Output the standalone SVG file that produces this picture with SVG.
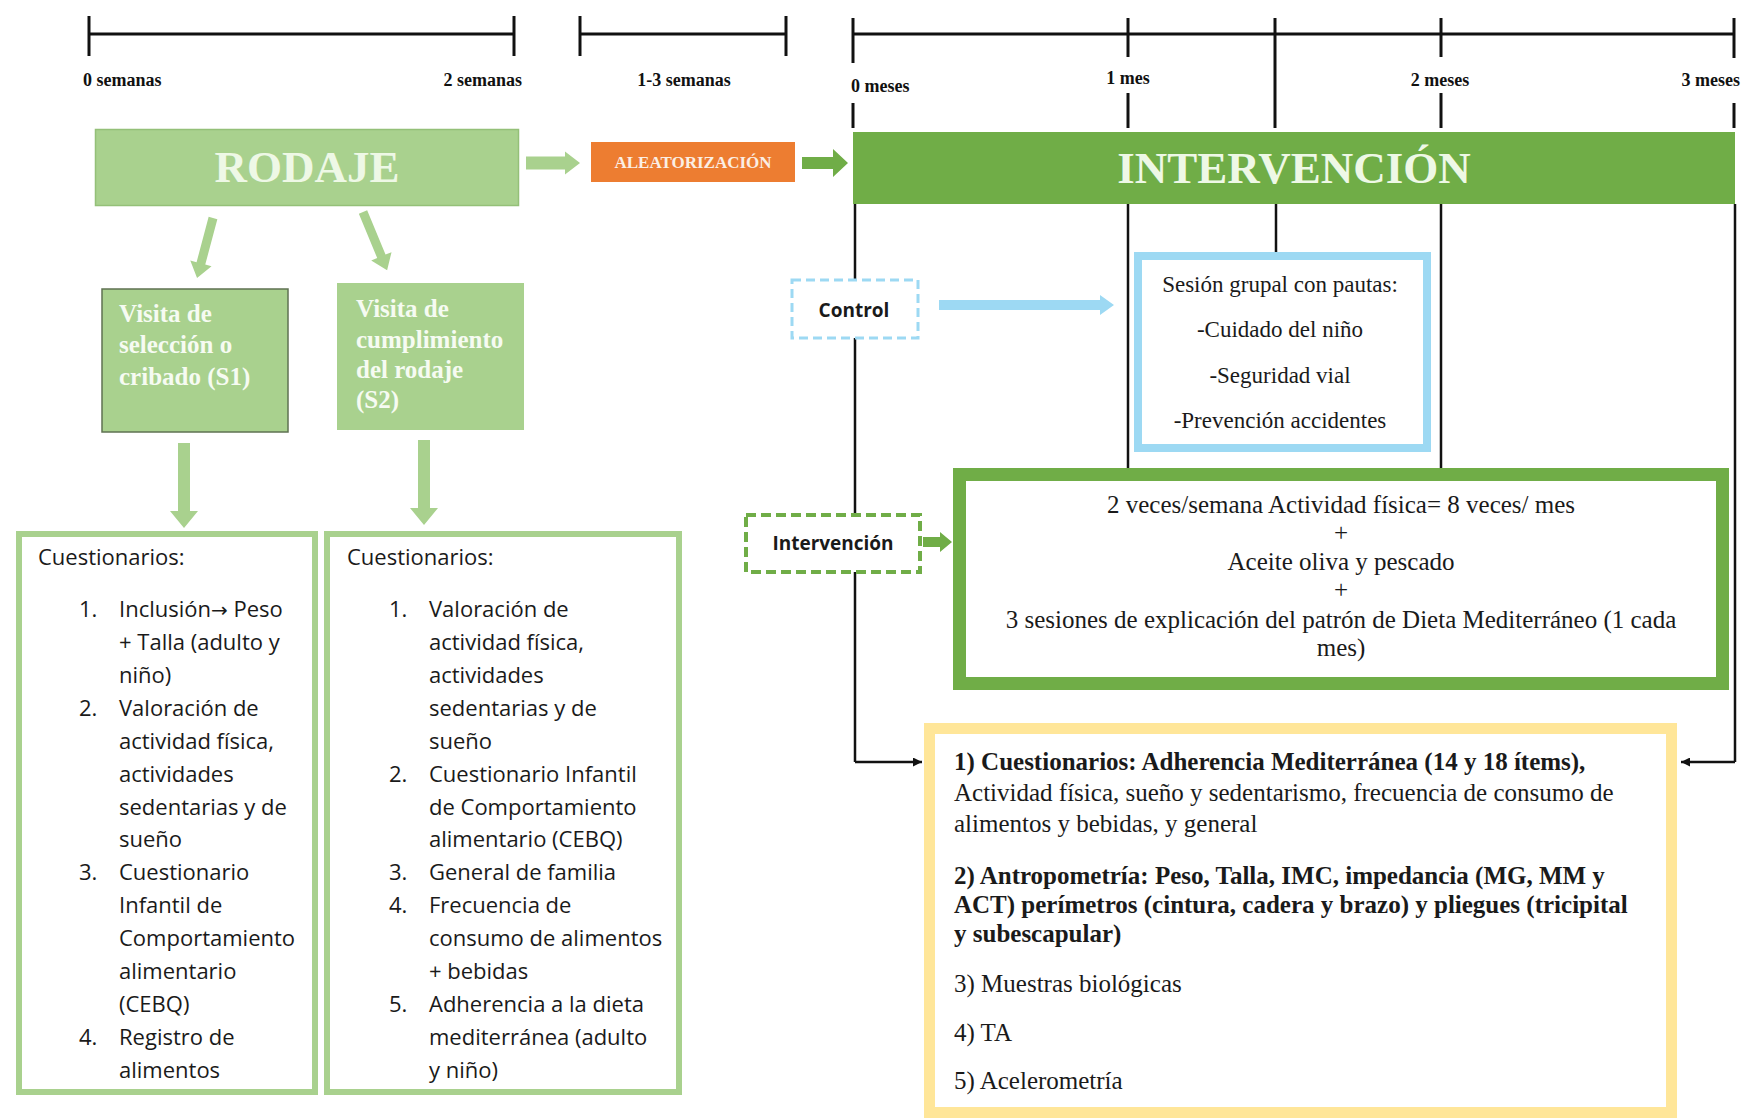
<svg xmlns="http://www.w3.org/2000/svg" width="1742" height="1120" viewBox="0 0 1742 1120">
<defs>
<style>
.tl{stroke:#111;stroke-width:3;fill:none}
.vl{stroke:#111;stroke-width:2.5;fill:none}
.lbl{font-family:"Liberation Serif",serif;font-weight:bold;font-size:18px;fill:#111}
.big{font-family:"Liberation Serif",serif;font-weight:bold;font-size:45px;fill:#eef8e6}
.vis{font-family:"Liberation Serif",serif;font-weight:bold;font-size:25px;fill:#f6fbf2}
.ser{font-family:"Liberation Serif",serif;font-size:25px;fill:#1a1a1a}
.serb{font-family:"Liberation Serif",serif;font-size:25px;font-weight:bold;fill:#1a1a1a}
.blu{font-family:"Liberation Serif",serif;font-size:23px;fill:#1a1a1a}
.cal{font-family:"Open Sans","Liberation Sans",sans-serif;font-size:22px;fill:#1a1a1a}
.calb{font-family:"Open Sans","Liberation Sans",sans-serif;font-size:19px;font-weight:bold;fill:#1a1a1a}
.lg{fill:#a9d18e}
.dg{fill:#70ad47}
</style>
<marker id="ah" viewBox="0 0 10 10" refX="10" refY="5" markerWidth="9" markerHeight="9" markerUnits="userSpaceOnUse" orient="auto">
<path d="M0,0 L10,5 L0,10 z" fill="#111"/>
</marker>
</defs>
<rect width="1742" height="1120" fill="#ffffff"/>

<g id="timeline">
<line class="tl" x1="89" y1="34" x2="514" y2="34"/>
<line class="tl" x1="89" y1="16" x2="89" y2="56"/>
<line class="tl" x1="514" y1="16" x2="514" y2="56"/>
<text class="lbl" x="83" y="86">0 semanas</text>
<text class="lbl" x="522" y="86" text-anchor="end">2 semanas</text>
<line class="tl" x1="580" y1="34" x2="786" y2="34"/>
<line class="tl" x1="580" y1="16" x2="580" y2="56"/>
<line class="tl" x1="786" y1="16" x2="786" y2="56"/>
<text class="lbl" x="684" y="86" text-anchor="middle">1-3 semanas</text>
<line class="tl" x1="853" y1="34" x2="1734" y2="34"/>
<line class="tl" x1="853" y1="18" x2="853" y2="63"/>
<line class="tl" x1="853" y1="103" x2="853" y2="128"/>
<line class="tl" x1="1128" y1="18" x2="1128" y2="57"/>
<line class="tl" x1="1128" y1="93" x2="1128" y2="128"/>
<line class="tl" x1="1275" y1="18" x2="1275" y2="128"/>
<line class="tl" x1="1441" y1="18" x2="1441" y2="57"/>
<line class="tl" x1="1441" y1="93" x2="1441" y2="128"/>
<line class="tl" x1="1734" y1="18" x2="1734" y2="58"/>
<line class="tl" x1="1734" y1="103" x2="1734" y2="128"/>
<text class="lbl" x="851" y="92">0 meses</text>
<text class="lbl" x="1128" y="84" text-anchor="middle">1 mes</text>
<text class="lbl" x="1440" y="86" text-anchor="middle">2 meses</text>
<text class="lbl" x="1740" y="86" text-anchor="end">3 meses</text>
</g>

<g id="connectors">
<line class="vl" x1="855" y1="204" x2="855" y2="762"/>
<line class="vl" x1="855" y1="762" x2="922" y2="762" marker-end="url(#ah)"/>
<line class="vl" x1="1735" y1="204" x2="1735" y2="762"/>
<line class="vl" x1="1735" y1="762" x2="1681" y2="762" marker-end="url(#ah)"/>
<line class="vl" x1="1128" y1="204" x2="1128" y2="468"/>
<line class="vl" x1="1441" y1="204" x2="1441" y2="468"/>
<line class="vl" x1="1276" y1="204" x2="1276" y2="253"/>
<polygon class="lg" points="526,156.5 565,156.5 565,151.5 580,163 565,174.5 565,169.5 526,169.5"/>
<polygon class="dg" points="802,157 833,157 833,149 848,163 833,177 833,169 802,169"/>
<path class="lg" d="M-4.5,0 L4.5,0 L4.5,47 L11,47 L0,62 L-11,47 L-4.5,47 z" transform="translate(213,218) rotate(14.9)"/>
<path class="lg" d="M-4.5,0 L4.5,0 L4.5,48 L11,48 L0,63 L-11,48 L-4.5,48 z" transform="translate(363,212) rotate(-22.5)"/>
<polygon class="lg" points="178,443 190,443 190,511 198,511 184,528 170,511 178,511"/>
<polygon class="lg" points="418,440 430,440 430,508 438,508 424,525 410,508 418,508"/>
<polygon fill="#9dd9f3" points="939,300 1100,300 1100,295 1114,305 1100,315 1100,310 939,310"/>
<polygon class="dg" points="923,537 940,537 940,532 952,542 940,552 940,547 923,547"/>
</g>

<g id="rodaje">
<rect x="95.5" y="129.5" width="423" height="76" fill="#a9d18e" stroke="#94c078" stroke-width="1.5"/>
<text class="big" x="307" y="182" text-anchor="middle">RODAJE</text>
</g>

<g id="aleatorizacion">
<rect x="591" y="142" width="204" height="40" fill="#ed7d31"/>
<text x="693" y="168" text-anchor="middle" font-family="Liberation Serif, serif" font-weight="bold" font-size="17" fill="#fbeee4">ALEATORIZACIÓN</text>
</g>

<g id="intervencion-bar">
<rect x="853" y="132" width="882" height="72" fill="#70ad47"/>
<text class="big" x="1294" y="183" text-anchor="middle">INTERVENCIÓN</text>
</g>

<g id="s1">
<rect x="102" y="289" width="186" height="143" fill="#a9d18e" stroke="#5f7252" stroke-width="1.5"/>
<text class="vis" x="119" y="322">Visita de</text>
<text class="vis" x="119" y="353">selección o</text>
<text class="vis" x="119" y="385">cribado (S1)</text>
</g>

<g id="s2">
<rect x="337" y="283" width="187" height="147" fill="#a9d18e"/>
<text class="vis" x="356" y="317">Visita de</text>
<text class="vis" x="356" y="348">cumplimiento</text>
<text class="vis" x="356" y="378">del rodaje</text>
<text class="vis" x="356" y="408">(S2)</text>
</g>

<g id="cuestionarios-s1">
<rect x="19" y="534" width="296" height="558" fill="#ffffff" stroke="#a9d18e" stroke-width="6"/>
<text class="cal" x="38" y="565">Cuestionarios:</text>
<text class="cal" x="79" y="617">1.</text>
<text class="cal" x="119" y="617">Inclusión<tspan font-family="DejaVu Sans, sans-serif" font-size="20">→</tspan> Peso</text>
<text class="cal" x="119" y="650">+ Talla (adulto y</text>
<text class="cal" x="119" y="683">niño)</text>
<text class="cal" x="79" y="716">2.</text>
<text class="cal" x="119" y="716">Valoración de</text>
<text class="cal" x="119" y="749">actividad física,</text>
<text class="cal" x="119" y="782">actividades</text>
<text class="cal" x="119" y="815">sedentarias y de</text>
<text class="cal" x="119" y="847">sueño</text>
<text class="cal" x="79" y="880">3.</text>
<text class="cal" x="119" y="880">Cuestionario</text>
<text class="cal" x="119" y="913">Infantil de</text>
<text class="cal" x="119" y="946">Comportamiento</text>
<text class="cal" x="119" y="979">alimentario</text>
<text class="cal" x="119" y="1012">(CEBQ)</text>
<text class="cal" x="79" y="1045">4.</text>
<text class="cal" x="119" y="1045">Registro de</text>
<text class="cal" x="119" y="1078">alimentos</text>
</g>

<g id="cuestionarios-s2">
<rect x="327" y="534" width="352" height="558" fill="#ffffff" stroke="#a9d18e" stroke-width="6"/>
<text class="cal" x="347" y="565">Cuestionarios:</text>
<text class="cal" x="389" y="617">1.</text>
<text class="cal" x="429" y="617">Valoración de</text>
<text class="cal" x="429" y="650">actividad física,</text>
<text class="cal" x="429" y="683">actividades</text>
<text class="cal" x="429" y="716">sedentarias y de</text>
<text class="cal" x="429" y="749">sueño</text>
<text class="cal" x="389" y="782">2.</text>
<text class="cal" x="429" y="782">Cuestionario Infantil</text>
<text class="cal" x="429" y="815">de Comportamiento</text>
<text class="cal" x="429" y="847">alimentario (CEBQ)</text>
<text class="cal" x="389" y="880">3.</text>
<text class="cal" x="429" y="880">General de familia</text>
<text class="cal" x="389" y="913">4.</text>
<text class="cal" x="429" y="913">Frecuencia de</text>
<text class="cal" x="429" y="946">consumo de alimentos</text>
<text class="cal" x="429" y="979">+ bebidas</text>
<text class="cal" x="389" y="1012">5.</text>
<text class="cal" x="429" y="1012">Adherencia a la dieta</text>
<text class="cal" x="429" y="1045">mediterránea (adulto</text>
<text class="cal" x="429" y="1078">y niño)</text>
</g>

<g id="control">
<rect x="792" y="280" width="126" height="58" fill="#ffffff" stroke="#9dd9f3" stroke-width="3" stroke-dasharray="9 5"/>
<text class="calb" x="854" y="317" text-anchor="middle">Control</text>
</g>

<g id="intervencion">
<rect x="746" y="515" width="174" height="57" fill="#ffffff" stroke="#70ad47" stroke-width="4" stroke-dasharray="10 5"/>
<text class="calb" x="833" y="550" text-anchor="middle">Intervención</text>
</g>

<g id="sesion-grupal">
<rect x="1138" y="256" width="289" height="192" fill="#ffffff" stroke="#9dd9f3" stroke-width="8"/>
<text class="blu" x="1280" y="292" text-anchor="middle">Sesión grupal con pautas:</text>
<text class="blu" x="1280" y="337" text-anchor="middle">-Cuidado del niño</text>
<text class="blu" x="1280" y="383" text-anchor="middle">-Seguridad vial</text>
<text class="blu" x="1280" y="428" text-anchor="middle">-Prevención accidentes</text>
</g>

<g id="actividad">
<rect x="959.5" y="474.5" width="763" height="209" fill="#ffffff" stroke="#70ad47" stroke-width="13"/>
<text class="ser" x="1341" y="513" text-anchor="middle">2 veces/semana Actividad física= 8 veces/ mes</text>
<text class="ser" x="1341" y="541" text-anchor="middle">+</text>
<text class="ser" x="1341" y="570" text-anchor="middle">Aceite oliva y pescado</text>
<text class="ser" x="1341" y="598" text-anchor="middle">+</text>
<text class="ser" x="1341" y="628" text-anchor="middle">3 sesiones de explicación del patrón de Dieta Mediterráneo (1 cada</text>
<text class="ser" x="1341" y="656" text-anchor="middle">mes)</text>
</g>

<g id="mediciones">
<rect x="929.5" y="728.5" width="742" height="384" fill="#ffffff" stroke="#ffe699" stroke-width="11"/>
<text class="serb" x="954" y="770">1) Cuestionarios: Adherencia Mediterránea (14 y 18 ítems),</text>
<text class="ser" x="954" y="801">Actividad física, sueño y sedentarismo, frecuencia de consumo de</text>
<text class="ser" x="954" y="832">alimentos y bebidas, y general</text>
<text class="serb" x="954" y="884">2) Antropometría: Peso, Talla, IMC, impedancia (MG, MM y</text>
<text class="serb" x="954" y="913">ACT) perímetros (cintura, cadera y brazo) y pliegues (tricipital</text>
<text class="serb" x="954" y="942">y subescapular)</text>
<text class="ser" x="954" y="992">3) Muestras biológicas</text>
<text class="ser" x="954" y="1041">4) TA</text>
<text class="ser" x="954" y="1089">5) Acelerometría</text>
</g>
</svg>
